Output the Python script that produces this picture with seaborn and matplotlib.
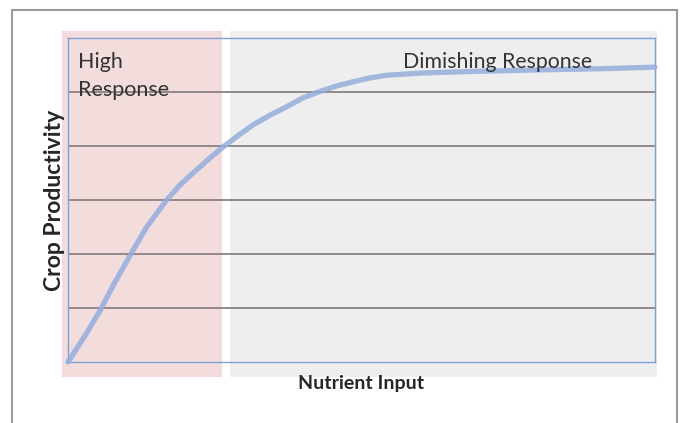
import numpy as np
import pandas as pd
import matplotlib
matplotlib.use('Agg')
import matplotlib.pyplot as plt
import matplotlib.patches as patches
import seaborn as sns

# response curve (x: nutrient input 0-100, y: productivity 0-6)
nutrient_input = [0, 3.2, 5.5, 7.9, 10.6, 13.4, 16.8, 19.1, 21.3, 24.2, 26.4, 28.7, 31.5, 34.4,
                  37.3, 40.0, 42.9, 45.7, 48.6, 51.4, 54.3, 57.1, 60.0, 68.5, 80.4, 90.6, 100]
productivity = [0, 0.54, 0.96, 1.46, 1.98, 2.50, 3.0, 3.28, 3.5, 3.78, 3.98, 4.17, 4.39, 4.57,
                4.73, 4.89, 5.01, 5.11, 5.19, 5.26, 5.31, 5.33, 5.35, 5.38, 5.41, 5.43, 5.46]
grid_levels = [1, 2, 3, 4, 5]

# shaded zones (x extent in data units)
high_zone = (-1.0, 26.2)
dim_zone = (27.6, 100.3)

df = pd.DataFrame({"Nutrient Input": nutrient_input, "Crop Productivity": productivity})

sns.set_style("white")
plt.rcParams['font.family'] = ['Lato', 'DejaVu Sans']

fig = plt.figure(figsize=(6.85, 4.23), dpi=100)
ax = fig.add_axes([0.0993, 0.1442, 0.8569, 0.766])
ax.set_facecolor('none')

# background zones, spilling a bit past the axes
ax.add_patch(patches.Rectangle((high_zone[0], -0.28), high_zone[1] - high_zone[0], 6.41,
                               facecolor='#f3dcdc', edgecolor='none', zorder=0, clip_on=False))
ax.add_patch(patches.Rectangle((dim_zone[0], -0.28), dim_zone[1] - dim_zone[0], 6.41,
                               facecolor='#eeeeee', edgecolor='none', zorder=0, clip_on=False))

for g in grid_levels:
    ax.axhline(g, color='#8a8282', lw=1.3, zorder=1)

sns.lineplot(data=df, x="Nutrient Input", y="Crop Productivity", ax=ax,
             color='#94aedc', lw=3.8, alpha=0.85, zorder=3, clip_on=False,
             solid_joinstyle='round', solid_capstyle='round')

ax.set_xlim(0, 100)
ax.set_ylim(0, 6)
ax.set_xticks([])
ax.set_yticks([])
for s in ax.spines.values():
    s.set_color('#7f9fd5')
    s.set_linewidth(1.0)
    s.set_zorder(2)

ax.set_xlabel("Nutrient Input", fontsize=14, fontweight='bold', labelpad=9)
ax.set_ylabel("Crop Productivity", fontsize=16.5, fontweight='bold', labelpad=2)

ax.text(0.017, 0.958, "High\nResponse", transform=ax.transAxes, fontsize=15.5,
        color='#333333', va='top', ha='left', linespacing=1.55, zorder=4)
ax.text(0.57, 0.958, "Dimishing Response", transform=ax.transAxes, fontsize=15.3,
        color='#333333', va='top', ha='left', zorder=4)

# outer frame
fig.add_artist(patches.Rectangle((0.0175, -0.02), 0.9708, 0.9964, transform=fig.transFigure,
                                 fill=False, edgecolor='#9a9a9a', lw=1.5))

fig.savefig("out.png", dpi=100)
